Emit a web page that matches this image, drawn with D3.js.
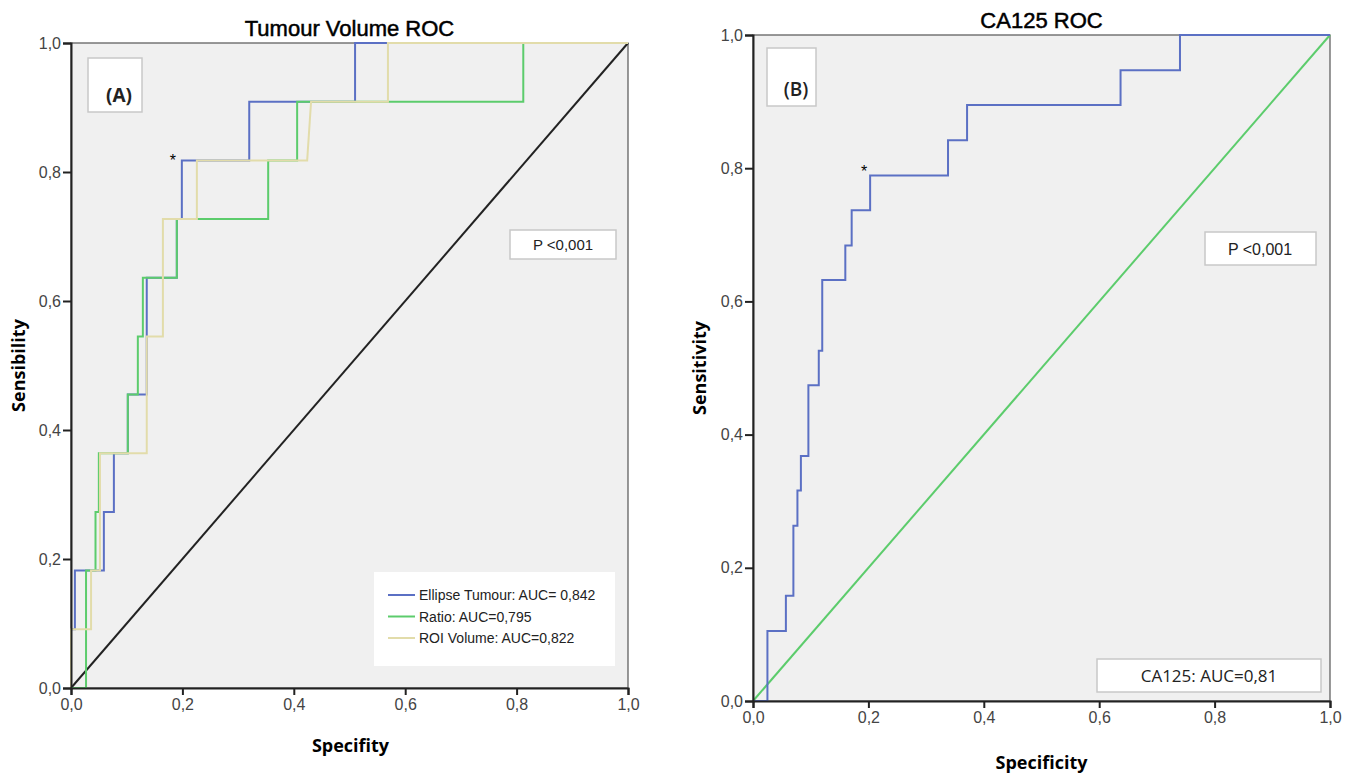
<!DOCTYPE html>
<html>
<head>
<meta charset="utf-8">
<script src="https://cdn.jsdelivr.net/npm/d3@7"></script>
<style>
  body { margin: 0; background: #fff; }
  svg { display: block; }
</style>
</head>
<body>
<div id="chart"></div>
<script>
// ---- data (x = 1 - specificity, y = sensitivity) ----
const ticks = [0, 0.2, 0.4, 0.6, 0.8, 1.0];

const ellipseX = [0, 0, 0.007, 0.007, 0.059, 0.059, 0.077, 0.077, 0.102, 0.102, 0.136, 0.136, 0.19, 0.19, 0.199, 0.199, 0.32, 0.32, 0.51, 0.51, 1];
const ellipseY = [0, 0.091, 0.091, 0.182, 0.182, 0.273, 0.273, 0.364, 0.364, 0.455, 0.455, 0.636, 0.636, 0.727, 0.727, 0.818, 0.818, 0.909, 0.909, 1, 1];

const ratioX = [0, 0.027, 0.027, 0.044, 0.044, 0.05, 0.05, 0.102, 0.102, 0.12, 0.12, 0.129, 0.129, 0.19, 0.19, 0.354, 0.354, 0.406, 0.406, 0.812, 0.812, 1];
const ratioY = [0, 0, 0.182, 0.182, 0.273, 0.273, 0.364, 0.364, 0.455, 0.455, 0.545, 0.545, 0.636, 0.636, 0.727, 0.727, 0.818, 0.818, 0.909, 0.909, 1, 1];

const roiX = [0, 0, 0.036, 0.036, 0.052, 0.052, 0.136, 0.136, 0.165, 0.165, 0.226, 0.226, 0.424, 0.431, 0.569, 0.569, 1];
const roiY = [0, 0.091, 0.091, 0.182, 0.182, 0.364, 0.364, 0.545, 0.545, 0.727, 0.727, 0.818, 0.818, 0.909, 0.909, 1, 1];

const ca125X = [0, 0.025, 0.025, 0.057, 0.057, 0.07, 0.07, 0.077, 0.077, 0.083, 0.083, 0.096, 0.096, 0.114, 0.114, 0.12, 0.12, 0.16, 0.16, 0.171, 0.171, 0.203, 0.203, 0.338, 0.338, 0.371, 0.371, 0.637, 0.637, 0.74, 0.74, 1];
const ca125Y = [0, 0, 0.105, 0.105, 0.158, 0.158, 0.263, 0.263, 0.316, 0.316, 0.368, 0.368, 0.474, 0.474, 0.526, 0.526, 0.632, 0.632, 0.684, 0.684, 0.737, 0.737, 0.789, 0.789, 0.842, 0.842, 0.895, 0.895, 0.947, 0.947, 1, 1];

const legendLabels = ["Ellipse Tumour: AUC= 0,842", "Ratio: AUC=0,795", "ROI Volume: AUC=0,822"];

const BLUE = "#5b70c4", GREEN = "#5ccc6c", TAN = "#e2dcaa";

const W = 1350, H = 773;
const svg = d3.select("#chart").append("svg").attr("width", W).attr("height", H);

const fmt = d => d.toFixed(1).replace(".", ",");
const zip = (xs, ys) => xs.map((x, i) => [x, ys[i]]);

function panel(o) {
  const x = d3.scaleLinear().domain([0, 1]).range([o.x0, o.x1]);
  const y = d3.scaleLinear().domain([0, 1]).range([o.y0, o.y1]);
  const g = svg.append("g");

  g.append("rect")
    .attr("x", o.x0).attr("y", o.y1)
    .attr("width", o.x1 - o.x0).attr("height", o.y0 - o.y1)
    .attr("fill", "#f0f0f0")
    .attr("stroke", "#555").attr("stroke-width", 1.2);

  const line = d3.line().x(d => x(d[0])).y(d => y(d[1]));

  // reference diagonal
  g.append("path").datum([[0, 0], [1, 1]])
    .attr("d", line).attr("fill", "none")
    .attr("stroke", o.diagColor).attr("stroke-width", 2);

  o.series.forEach(s => {
    g.append("path").datum(zip(s.xs, s.ys))
      .attr("d", line).attr("fill", "none")
      .attr("stroke", s.color).attr("stroke-width", 2);
  });

  // axes
  const xa = g.append("g").attr("transform", `translate(0,${o.y0})`)
    .call(d3.axisBottom(x).tickValues(ticks).tickFormat(fmt).tickSize(7).tickPadding(4));
  const ya = g.append("g").attr("transform", `translate(${o.x0},0)`)
    .call(d3.axisLeft(y).tickValues(ticks).tickFormat(fmt).tickSize(8).tickPadding(2));
  [xa, ya].forEach(a => {
    a.select(".domain").attr("stroke", "#222").attr("stroke-width", 2);
    a.selectAll(".tick line").attr("stroke", "#222").attr("stroke-width", 2);
    a.selectAll(".tick text").attr("fill", "#444")
      .style("font", "16px 'Liberation Sans', Arial, sans-serif");
  });

  g.append("text").attr("x", (o.x0 + o.x1) / 2).attr("y", o.titleY)
    .attr("text-anchor", "middle")
    .style("font", "22px 'Liberation Sans', Arial, sans-serif")
    .attr("stroke", "#000").attr("stroke-width", 0.5)
    .text(o.title);

  g.append("text").attr("x", (o.x0 + o.x1) / 2 + o.xLabelDx).attr("y", o.xLabelY)
    .attr("text-anchor", "middle")
    .style("font", "bold 18px 'Open Sans', sans-serif")
    .text(o.xLabel);

  g.append("text")
    .attr("transform", `translate(${o.yLabelX},${(o.y0 + o.y1) / 2}) rotate(-90)`)
    .attr("text-anchor", "middle")
    .style("font", "bold 18px 'Open Sans', sans-serif")
    .text(o.yLabel);

  // cut-off marker
  g.append("text").attr("x", x(o.star[0]) + o.star[2]).attr("y", y(o.star[1]) + o.star[3])
    .attr("text-anchor", "middle")
    .style("font", "16px 'Liberation Sans', Arial, sans-serif")
    .text("*");

  return { g, x, y };
}

function box(g, bx, by, bw, bh, label, font, tx, ty) {
  g.append("rect").attr("x", bx).attr("y", by).attr("width", bw).attr("height", bh)
    .attr("fill", "#fff").attr("stroke", "#c8c8c8").attr("stroke-width", 1.5);
  g.append("text").attr("x", tx).attr("y", ty)
    .attr("text-anchor", "middle")
    .style("font", font).attr("fill", "#222").text(label);
}

// ---- panel A ----
const A = panel({
  x0: 71, x1: 628, y0: 688, y1: 43,
  title: "Tumour Volume ROC", titleY: 36,
  xLabel: "Specifity", xLabelY: 752, xLabelDx: 1,
  yLabel: "Sensibility", yLabelX: 25,
  diagColor: "#222",
  series: [
    { xs: ellipseX, ys: ellipseY, color: BLUE },
    { xs: ratioX, ys: ratioY, color: GREEN },
    { xs: roiX, ys: roiY, color: TAN }
  ],
  star: [0.199, 0.818, -9, 6]
});

box(A.g, 88, 58, 54, 54, "(A)", "bold 19px 'Open Sans', sans-serif", 119, 102);
box(A.g, 510, 230, 106, 29, "P <0,001", "15px 'Liberation Sans', Arial, sans-serif", 563, 250);

// legend
const lg = A.g.append("g");
lg.append("rect").attr("x", 374).attr("y", 572).attr("width", 241).attr("height", 94)
  .attr("fill", "#fff");
[BLUE, GREEN, TAN].forEach((c, i) => {
  const ly = 595 + i * 21.5;
  lg.append("line").attr("x1", 388).attr("x2", 415).attr("y1", ly).attr("y2", ly)
    .attr("stroke", c).attr("stroke-width", 2);
  lg.append("text").attr("x", 419).attr("y", ly + 5)
    .style("font", "14px 'Liberation Sans', Arial, sans-serif").attr("fill", "#222")
    .text(legendLabels[i]);
});

// ---- panel B ----
const B = panel({
  x0: 753, x1: 1330, y0: 701, y1: 35,
  title: "CA125 ROC", titleY: 28,
  xLabel: "Specificity", xLabelY: 769, xLabelDx: 0,
  yLabel: "Sensitivity", yLabelX: 706,
  diagColor: GREEN,
  series: [{ xs: ca125X, ys: ca125Y, color: BLUE }],
  star: [0.203, 0.789, -6, 1]
});

box(B.g, 767, 48, 49, 58, "(B)", "600 19px 'Open Sans', sans-serif", 796, 96);
box(B.g, 1205, 232, 111, 33, "P <0,001", "16px 'Liberation Sans', Arial, sans-serif", 1260, 255);
box(B.g, 1097, 659, 224, 33, "CA125: AUC=0,81", "17px 'Open Sans', sans-serif", 1209, 682);
</script>
</body>
</html>
